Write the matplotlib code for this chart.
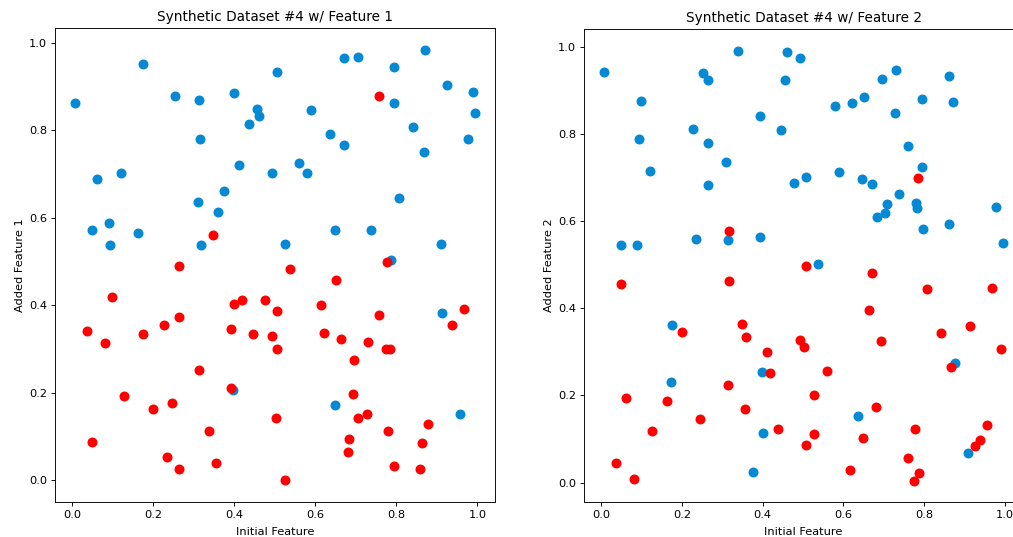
#!/usr/bin/env python3
"""Synthetic dataset #4 - class scatter against each added feature."""
import matplotlib
matplotlib.use("Agg")
import matplotlib.pyplot as plt

BLUE = "#0489d5"
RED = "#ff0000"

# panel 1: Initial Feature vs Added Feature 1
f1_blue_x = [0.175, 0.007, 0.253, 0.313, 0.399, 0.505, 0.456, 0.462, 0.437, 0.316, 0.411, 0.494,
             0.062, 0.120, 0.374, 0.310, 0.359, 0.050, 0.090, 0.163, 0.094, 0.318,
             0.671, 0.705, 0.871, 0.794, 0.926, 0.989, 0.994, 0.795, 0.589, 0.840, 0.977, 0.636,
             0.670, 0.867, 0.560, 0.580, 0.807, 0.649, 0.738, 0.525, 0.909, 0.787,
             0.913, 0.648, 0.956, 0.397]
f1_blue_y = [0.952, 0.863, 0.878, 0.868, 0.885, 0.933, 0.849, 0.832, 0.814, 0.779, 0.721, 0.701,
             0.689, 0.701, 0.661, 0.637, 0.613, 0.572, 0.589, 0.565, 0.538, 0.538,
             0.965, 0.967, 0.984, 0.944, 0.904, 0.888, 0.838, 0.863, 0.847, 0.808, 0.780, 0.791,
             0.767, 0.749, 0.725, 0.703, 0.645, 0.571, 0.572, 0.539, 0.540, 0.503,
             0.383, 0.173, 0.152, 0.207]
f1_red_x = [0.348, 0.757, 0.778, 0.538,
            0.263, 0.098, 0.400, 0.419, 0.476, 0.506, 0.036, 0.081, 0.174, 0.226, 0.264, 0.393,
            0.446, 0.493, 0.506, 0.313, 0.392, 0.128, 0.199, 0.246, 0.502, 0.338, 0.048, 0.235,
            0.263, 0.356,
            0.650, 0.614, 0.967, 0.937, 0.758, 0.621, 0.663, 0.730, 0.774, 0.784, 0.695, 0.694,
            0.706, 0.728, 0.877, 0.780, 0.684, 0.863, 0.680, 0.794, 0.859, 0.525]
f1_red_y = [0.561, 0.879, 0.498, 0.484,
            0.489, 0.418, 0.404, 0.411, 0.411, 0.388, 0.342, 0.315, 0.335, 0.354, 0.373, 0.345,
            0.335, 0.331, 0.300, 0.253, 0.210, 0.192, 0.164, 0.176, 0.143, 0.112, 0.088, 0.053,
            0.027, 0.041,
            0.457, 0.400, 0.391, 0.354, 0.377, 0.337, 0.323, 0.316, 0.300, 0.300, 0.274, 0.197,
            0.142, 0.152, 0.130, 0.113, 0.095, 0.085, 0.066, 0.033, 0.027, 0.000]

# panel 2: Initial Feature vs Added Feature 2
f2_blue_x = [0.007, 0.339, 0.461, 0.493, 0.251, 0.264, 0.456, 0.098, 0.393, 0.227, 0.446, 0.094,
             0.264, 0.310, 0.120, 0.264, 0.477, 0.048, 0.089, 0.236, 0.313, 0.393,
             0.731, 0.696, 0.862, 0.652, 0.622, 0.580, 0.794, 0.872, 0.728, 0.759, 0.794, 0.589,
             0.508, 0.647, 0.671, 0.738, 0.708, 0.704, 0.684, 0.779, 0.781, 0.796, 0.861, 0.977,
             0.995, 0.537,
             0.175, 0.174, 0.399, 0.400, 0.375, 0.876, 0.635, 0.909]
f2_blue_y = [0.941, 0.991, 0.987, 0.974, 0.939, 0.924, 0.924, 0.875, 0.840, 0.810, 0.809, 0.789,
             0.778, 0.735, 0.714, 0.683, 0.687, 0.545, 0.546, 0.558, 0.556, 0.564,
             0.946, 0.926, 0.932, 0.884, 0.871, 0.864, 0.879, 0.874, 0.848, 0.773, 0.724, 0.712,
             0.702, 0.696, 0.685, 0.663, 0.640, 0.619, 0.610, 0.642, 0.630, 0.582, 0.593, 0.632,
             0.550, 0.502,
             0.362, 0.231, 0.253, 0.115, 0.025, 0.275, 0.152, 0.068]
f2_red_x = [0.317, 0.784, 0.506,
            0.049, 0.316, 0.348, 0.199, 0.359, 0.493, 0.503, 0.410, 0.419, 0.313, 0.062, 0.162,
            0.357, 0.246, 0.127, 0.437, 0.036, 0.081,
            0.670, 0.807, 0.968, 0.664, 0.841, 0.914, 0.989, 0.694, 0.559, 0.866, 0.526, 0.680,
            0.526, 0.508, 0.648, 0.776, 0.956, 0.937, 0.925, 0.759, 0.615, 0.787, 0.774]
f2_red_y = [0.578, 0.698, 0.498,
            0.456, 0.462, 0.364, 0.345, 0.335, 0.327, 0.312, 0.299, 0.251, 0.224, 0.195, 0.188,
            0.169, 0.145, 0.118, 0.124, 0.044, 0.009,
            0.481, 0.445, 0.447, 0.396, 0.344, 0.360, 0.307, 0.325, 0.257, 0.266, 0.202, 0.173,
            0.111, 0.086, 0.103, 0.122, 0.132, 0.099, 0.085, 0.057, 0.028, 0.022, 0.005]

# original looks like a default figure shrunk to ~82%, so scale the defaults
K = 0.82
plt.rcParams.update({
    "font.size": 10 * K,
    "axes.titlesize": 12 * K,
    "axes.labelsize": 10 * K,
    "axes.titlepad": 6 * K,
    "axes.labelpad": 3.0,
    "axes.linewidth": 0.8 * K,
    "xtick.major.size": 3.5 * K,
    "ytick.major.size": 3.5 * K,
    "xtick.major.width": 0.8 * K,
    "ytick.major.width": 0.8 * K,
    "xtick.major.pad": 3.5 * K,
    "ytick.major.pad": 3.5 * K,
})


def panel(ax, bx, by, rx, ry, n):
    ax.scatter(bx, by, color=BLUE, s=38)
    ax.scatter(rx, ry, color=RED, s=38)
    ax.set_title(f"Synthetic Dataset #4 w/ Feature {n}")
    ax.set_xlabel("Initial Feature", labelpad=4.8)
    ax.set_ylabel(f"Added Feature {n}")


fig = plt.figure(figsize=(10.13, 5.37), dpi=100)
# right panel runs past the figure edge, as in the cropped original
ax1 = fig.add_axes([55 / 1013, 35 / 537, 440 / 1013, 474 / 537])
ax2 = fig.add_axes([584 / 1013, 35 / 537, 439 / 1013, 473 / 537])
panel(ax1, f1_blue_x, f1_blue_y, f1_red_x, f1_red_y, 1)
panel(ax2, f2_blue_x, f2_blue_y, f2_red_x, f2_red_y, 2)

fig.savefig("out.png", dpi=100)
